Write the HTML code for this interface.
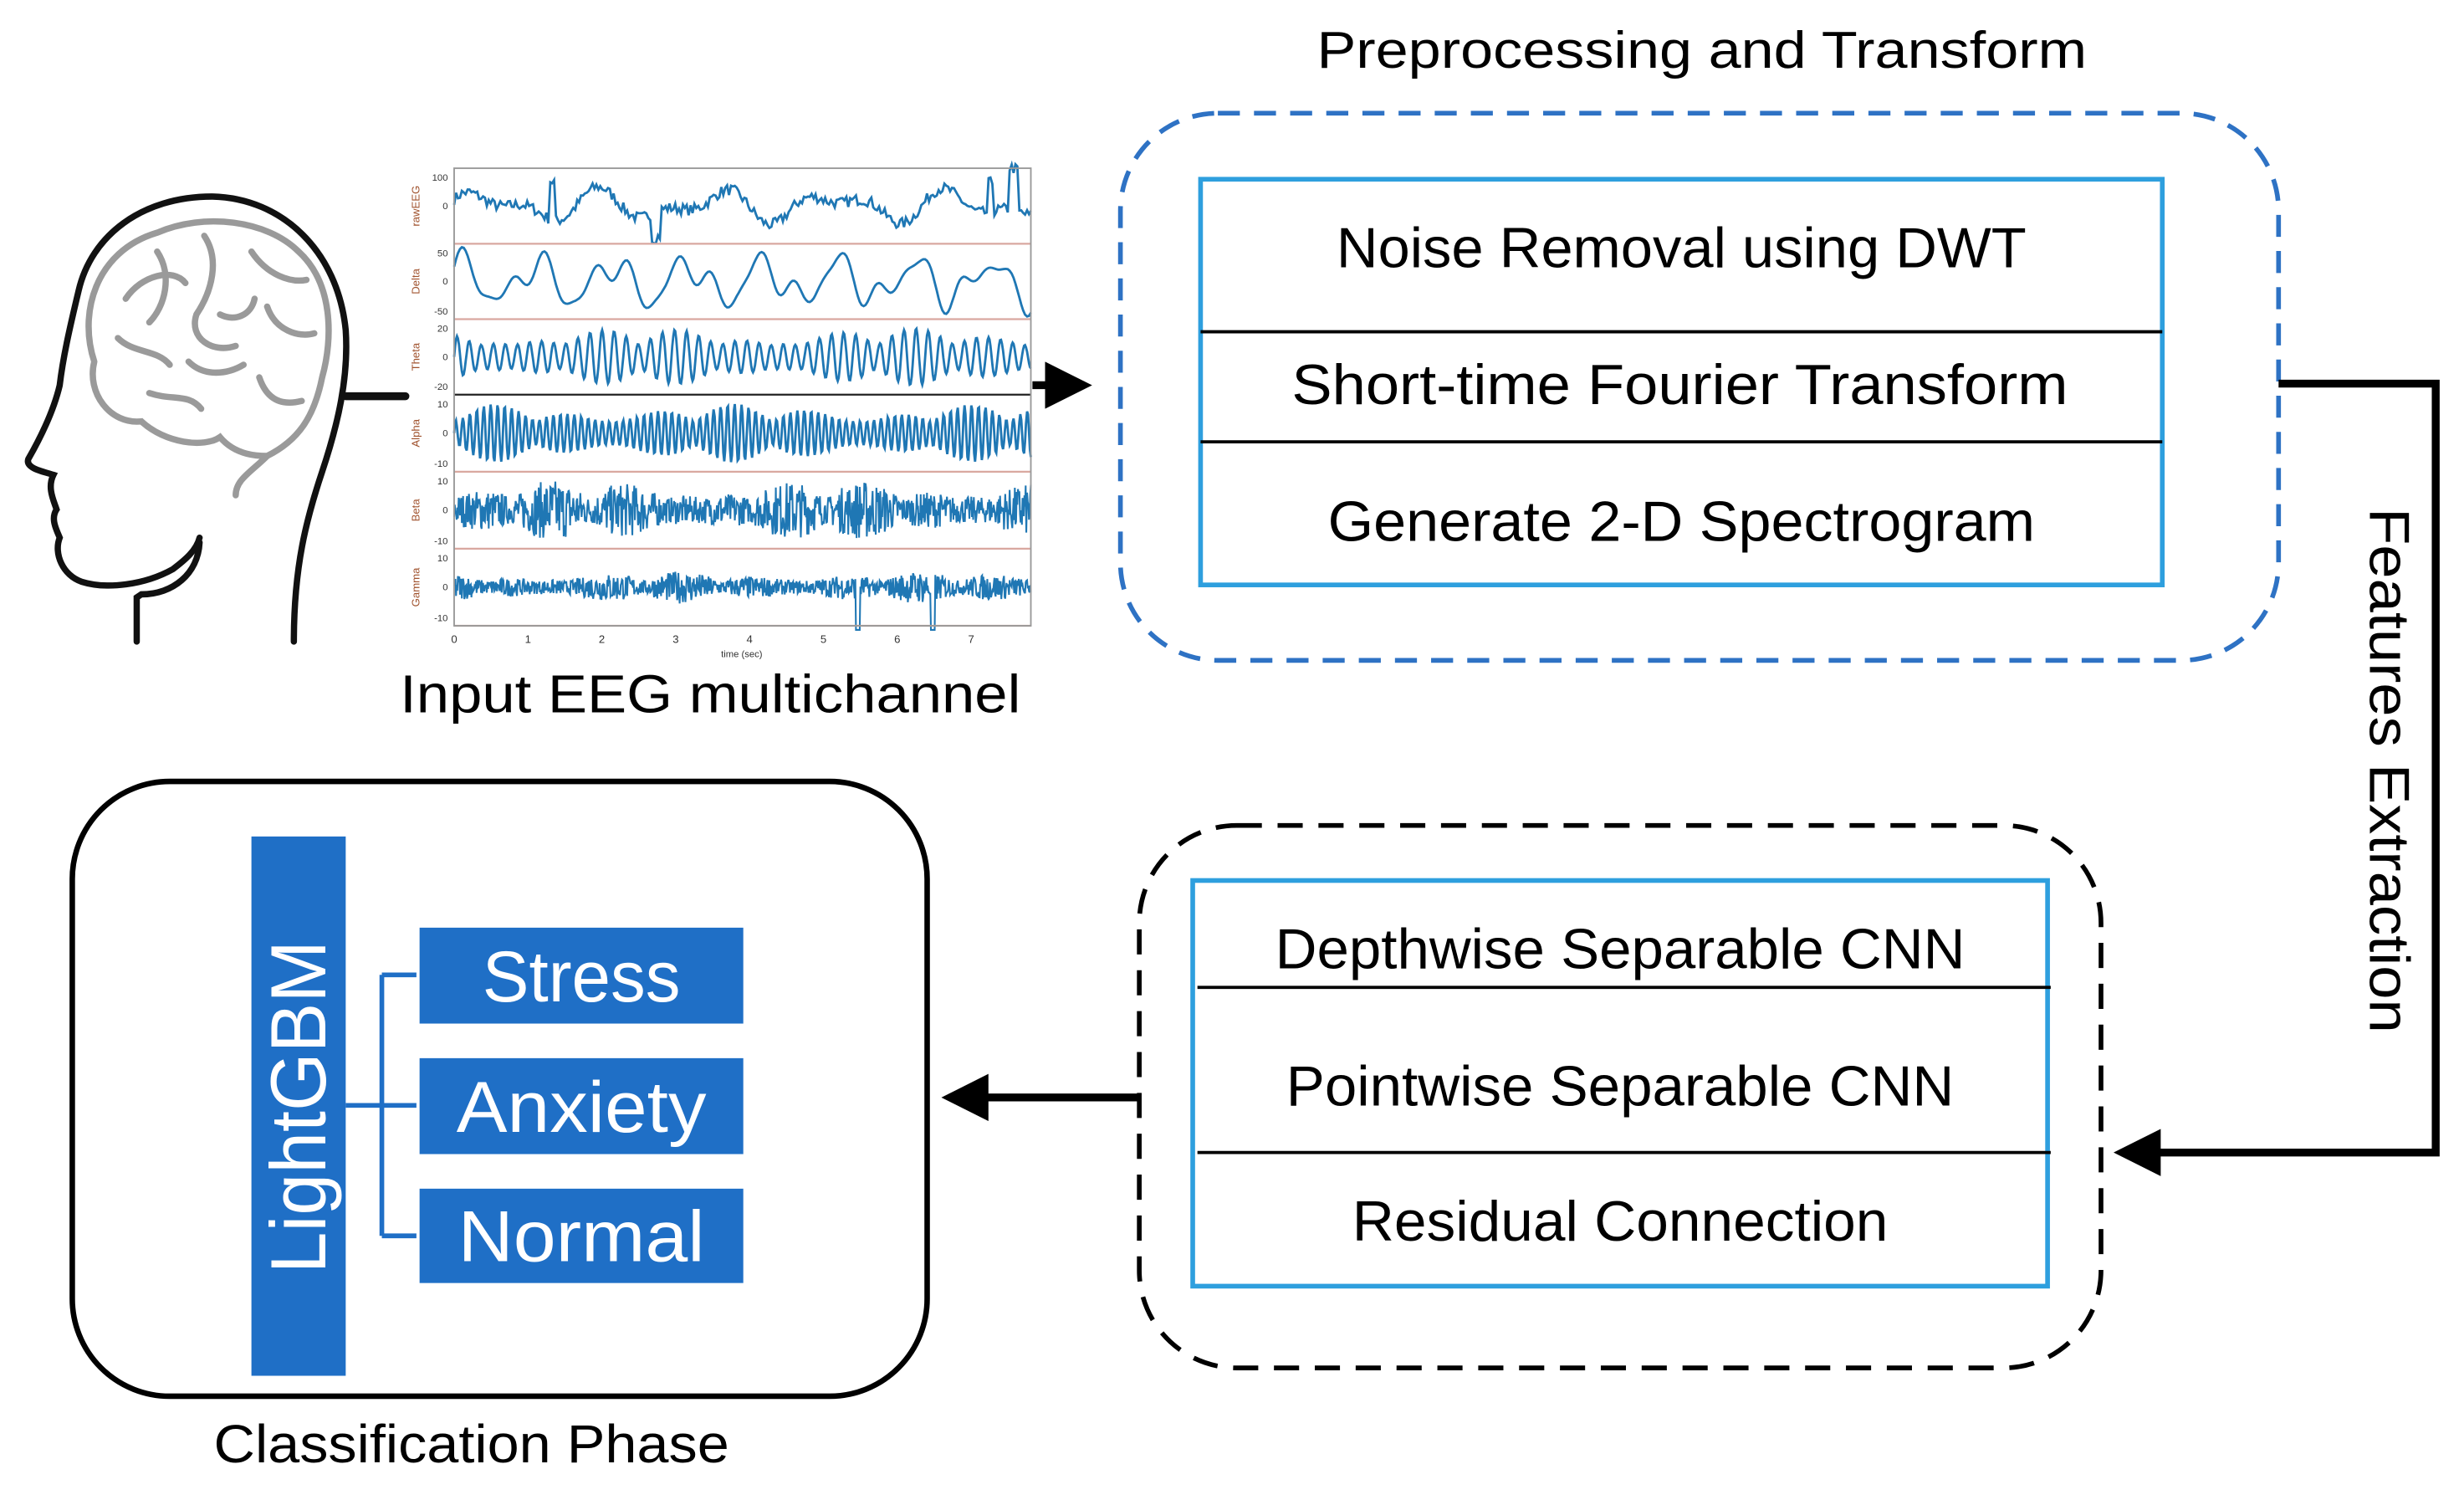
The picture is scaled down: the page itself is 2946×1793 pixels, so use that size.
<!DOCTYPE html>
<html><head><meta charset="utf-8"><style>
html,body{margin:0;padding:0;background:#fff;}
svg{display:block;}
text{font-family:"Liberation Sans",sans-serif;}
</style></head><body>
<svg id="s" width="2946" height="1793" viewBox="0 0 1568 954" preserveAspectRatio="none" xmlns="http://www.w3.org/2000/svg">
<defs>
<marker id="ah" markerWidth="6" markerHeight="6" refX="5" refY="3" orient="auto" markerUnits="strokeWidth"><path d="M0,0 L6,3 L0,6 z" fill="#000"/></marker>
</defs>
<!-- Head -->
<g fill="none" stroke="#111" stroke-width="4" stroke-linecap="round">
<path d="M187,408 C187,360 195,330 205,300 C215,270 222,240 220,210 C215,160 180,126 135,125 C90,125 58,150 50,185 C44,210 40,228 38,245 C34,262 26,278 18,292 C16,298 28,300 34,302 C30,310 34,318 36,324 C32,330 36,337 38,342 C34,352 40,366 52,370 C68,375 92,372 110,362 C118,356 125,350 127,342"/>
<path d="M127,345 C126,365 110,378 90,378 L87,380 L87,408"/>
<path d="M220,252 L258,252" stroke-width="5"/>
</g>
<!-- Brain -->
<g fill="none" stroke="#9a9a9a" stroke-width="4" stroke-linecap="round">
<path d="M60,230 C50,200 60,160 100,148 C130,135 170,140 190,160 C212,180 212,215 205,240 C200,265 190,280 170,290 C160,300 150,305 150,315 M60,230 C55,250 70,270 90,268 C105,282 130,285 140,278 C150,290 165,290 170,290"/>
<path d="M80,190 C90,175 110,170 118,180 M100,160 C110,175 105,195 95,205 M130,150 C140,165 135,185 125,200 C120,215 135,225 150,220 M160,160 C170,175 185,180 195,178 M170,195 C175,210 190,215 200,212 M120,230 C130,240 145,238 155,232 M75,215 C85,225 100,222 108,232 M95,250 C110,255 120,250 128,260 M165,240 C170,255 180,258 192,255 M140,200 C150,205 160,200 162,190"/>
</g>
<!-- EEG plot -->
<g id="eeg"></g>
<path d="M657,245 L690,245" stroke="#000" stroke-width="5" fill="none" marker-end="url(#ah)"/>
<text x="452" y="453" font-size="34" text-anchor="middle" textLength="395" lengthAdjust="spacingAndGlyphs">Input EEG multichannel</text>
<!-- Top box -->
<text x="1083" y="43" font-size="33" text-anchor="middle" textLength="490" lengthAdjust="spacingAndGlyphs">Preprocessing and Transform</text>
<rect x="713" y="72" width="737" height="348" rx="62" fill="none" stroke="#2e72c4" stroke-width="3" stroke-dasharray="14,9"/>
<rect x="764" y="114" width="612" height="258" fill="none" stroke="#2e9fde" stroke-width="3"/>
<line x1="764" y1="211" x2="1376" y2="211" stroke="#000" stroke-width="2"/>
<line x1="764" y1="281" x2="1376" y2="281" stroke="#000" stroke-width="2"/>
<text x="1070" y="170" font-size="36" text-anchor="middle" textLength="439" lengthAdjust="spacingAndGlyphs">Noise Removal using DWT</text>
<text x="1069" y="257" font-size="36" text-anchor="middle" textLength="494" lengthAdjust="spacingAndGlyphs">Short-time Fourier Transform</text>
<text x="1070" y="344" font-size="36" text-anchor="middle" textLength="450" lengthAdjust="spacingAndGlyphs">Generate 2-D Spectrogram</text>
<!-- connector -->
<path d="M1450,244 L1550,244 L1550,733 L1350,733" stroke="#000" stroke-width="5" fill="none" marker-end="url(#ah)"/>
<text transform="translate(1508,490) rotate(90)" font-size="36" text-anchor="middle" textLength="334" lengthAdjust="spacingAndGlyphs">Features Extraction</text>
<!-- Bottom box -->
<rect x="725" y="525" width="612" height="345" rx="62" fill="none" stroke="#000" stroke-width="3" stroke-dasharray="16,10"/>
<rect x="759" y="560" width="544" height="258" fill="none" stroke="#2e9fde" stroke-width="3"/>
<line x1="762" y1="628" x2="1305" y2="628" stroke="#000" stroke-width="2"/>
<line x1="762" y1="733" x2="1305" y2="733" stroke="#000" stroke-width="2"/>
<text x="1031" y="616" font-size="36" text-anchor="middle" textLength="439" lengthAdjust="spacingAndGlyphs">Depthwise Separable CNN</text>
<text x="1031" y="703" font-size="36" text-anchor="middle" textLength="425" lengthAdjust="spacingAndGlyphs">Pointwise Separable CNN</text>
<text x="1031" y="789" font-size="36" text-anchor="middle" textLength="341" lengthAdjust="spacingAndGlyphs">Residual Connection</text>
<path d="M725,698 L604,698" stroke="#000" stroke-width="5" fill="none" marker-end="url(#ah)"/>
<!-- Classification -->
<rect x="46" y="497" width="544" height="391" rx="62" fill="none" stroke="#000" stroke-width="3.5"/>
<text x="300" y="930" font-size="34" text-anchor="middle" textLength="328" lengthAdjust="spacingAndGlyphs">Classification Phase</text>
<rect x="160" y="532" width="60" height="343" fill="#1f6fc6"/>
<text transform="translate(207,704) rotate(-90)" font-size="50" fill="#fff" text-anchor="middle" textLength="212" lengthAdjust="spacingAndGlyphs">LightGBM</text>
<path d="M220,703 L243,703 M243,620 L243,786 M243,620 L265,620 M243,703 L265,703 M243,786 L265,786" stroke="#1f6fc6" stroke-width="3" fill="none"/>
<rect x="267" y="590" width="206" height="61" fill="#1f6fc6"/>
<rect x="267" y="673" width="206" height="61" fill="#1f6fc6"/>
<rect x="267" y="756" width="206" height="60" fill="#1f6fc6"/>
<text x="370" y="637" font-size="46" fill="#fff" text-anchor="middle" textLength="126" lengthAdjust="spacingAndGlyphs">Stress</text>
<text x="370" y="720" font-size="46" fill="#fff" text-anchor="middle" textLength="159" lengthAdjust="spacingAndGlyphs">Anxiety</text>
<text x="370" y="802" font-size="46" fill="#fff" text-anchor="middle" textLength="157" lengthAdjust="spacingAndGlyphs">Normal</text>
</svg>
<script>
(function(){
var g=document.getElementById('eeg'),h='';
var x0=289,x1=656,tops=[107,155,203,251,300,349,398];
var labs=['rawEEG','Delta','Theta','Alpha','Beta','Gamma'];
var seed=7;function r(){seed=(seed*16807)%2147483647;return seed/2147483647-0.5;}
for(var i=0;i<6;i++){
 var t=tops[i],b=tops[i+1],mid=(t+b)/2,hh=(b-t)/2,d='';
 var n=i<2?300:(i<4?600:900);
 var prev=0;
 for(var k=0;k<=n;k++){
  var x=x0+(x1-x0)*k/n,u=k/n,y;
  var env=0.4+0.6*Math.abs(Math.sin(u*23+i)*Math.cos(u*7+i*2));
  if(i==0){y=0.35*Math.sin(u*31)+0.25*Math.sin(u*53+1)+r()*0.35;
    if(Math.abs(u-0.17)<0.006)y+=1.2; if(Math.abs(u-0.97)<0.008)y+=1.3; if(Math.abs(u-0.35)<0.008)y-=0.8; if(Math.abs(u-0.93)<0.006)y+=0.9;}
  else if(i==1){y=0.55*Math.sin(u*48+1)+0.35*Math.sin(u*87)+0.2*Math.sin(u*131);}
  else if(i==2){y=Math.sin(u*300)*env*0.9;}
  else if(i==3){y=Math.sin(u*520)*env*0.9;}
  else{y=(r()*2)*env*(i==4?0.95:0.5); if(i==5&&(Math.abs(u-0.7)<0.004||Math.abs(u-0.83)<0.004))y=-1.3;}
  y=mid-y*hh*0.85;
  d+=(k?'L':'M')+x.toFixed(1)+','+y.toFixed(1);
 }
 h+='<path d="'+d+'" fill="none" stroke="#1f77b4" stroke-width="'+(i>3?1.1:1.5)+'"/>';
 h+='<line x1="'+x0+'" y1="'+b+'" x2="'+x1+'" y2="'+b+'" stroke="'+(i==2?'#222':'#d9a8a0')+'" stroke-width="1.2"/>';
 h+='<text transform="translate('+(x0-22)+','+mid+') rotate(-90)" font-size="7" fill="#a0522d" text-anchor="middle">'+labs[i]+'</text>';
 h+='<text x="'+(x0-4)+'" y="'+(mid+2)+'" font-size="6" text-anchor="end" fill="#333">0</text>';
 h+='<text x="'+(x0-4)+'" y="'+(t+8)+'" font-size="6" text-anchor="end" fill="#333">'+['100','50','20','10','10','10'][i]+'</text>';
 h+='<text x="'+(x0-4)+'" y="'+(b-3)+'" font-size="6" text-anchor="end" fill="#333">'+['','-50','-20','-10','-10','-10'][i]+'</text>';
}
h+='<rect x="'+x0+'" y="107" width="'+(x1-x0)+'" height="291" fill="none" stroke="#999" stroke-width="1"/>';
for(var j=0;j<8;j++){var xx=x0+j*47;h+='<text x="'+xx+'" y="409" font-size="7" text-anchor="middle" fill="#333">'+j+'</text>';}
h+='<text x="472" y="418" font-size="6" text-anchor="middle" fill="#333">time (sec)</text>';
g.innerHTML=h;
})();
</script>
</body></html>
